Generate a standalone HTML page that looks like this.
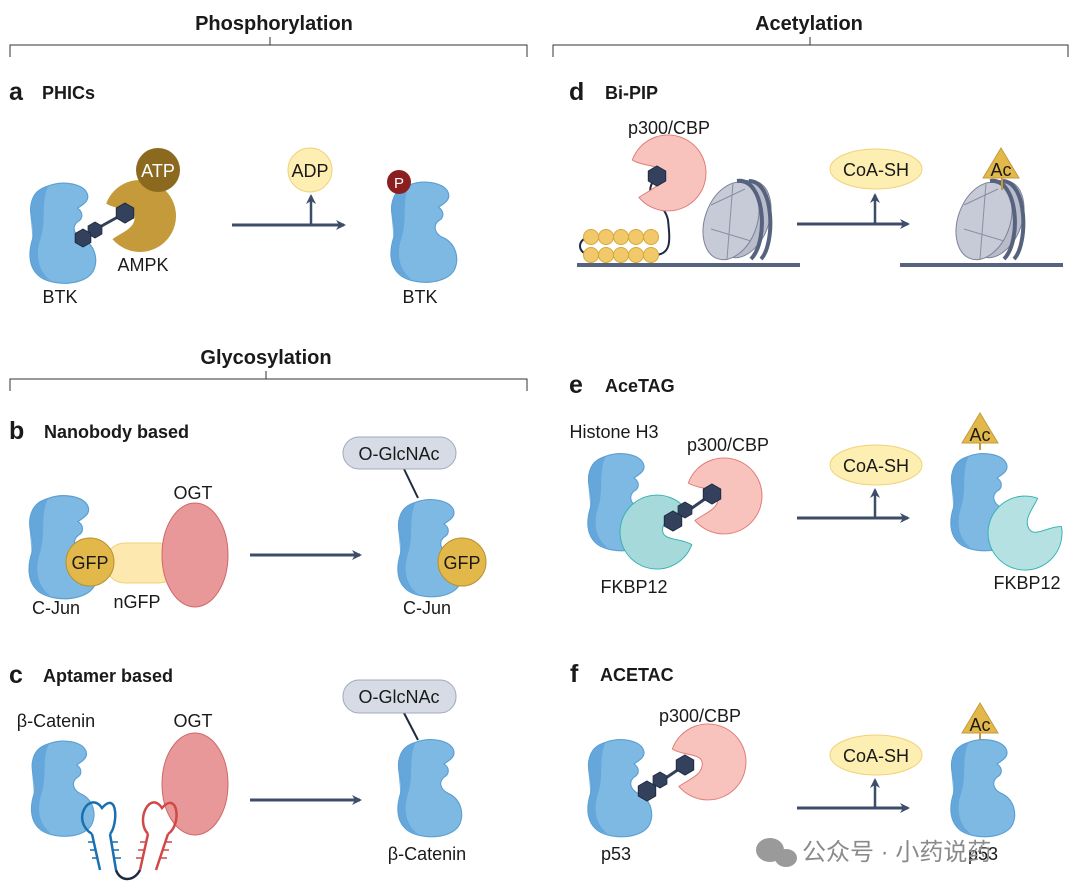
<!DOCTYPE html>
<html><head><meta charset="utf-8"><style>
html,body{margin:0;padding:0;background:#fff}
svg{display:block}
text{font-family:"Liberation Sans","Noto Sans CJK SC",sans-serif;fill:#1a1a1a}
.h{font-weight:bold;font-size:20px}
.L{font-weight:bold;font-size:25px}
.s{font-weight:bold;font-size:18px}
.t{font-size:18px}
</style></head><body>
<svg width="1074" height="893" viewBox="0 0 1074 893" xmlns="http://www.w3.org/2000/svg">
<defs>
<symbol id="blob" viewBox="0 0 70 105" overflow="visible">
<path d="M22,4 C38,-2 58,2 62,12 C65,20 56,24 52,27 C58,31 58,38 52,41 C46,46 48,54 56,58 C70,64 74,80 68,92 C60,106 30,108 14,98 C0,88 2,70 6,58 C10,46 2,38 4,24 C6,12 12,7 22,4 Z" fill="#7db9e3" stroke="#5a9fd3" stroke-width="1.2"/>
<path d="M22,4 C14,20 20,40 14,58 C8,76 12,92 24,101 C10,98 0,86 4,70 C8,54 2,40 4,24 C6,12 14,7 22,4Z" fill="#5fa3d8" opacity=".8"/>
</symbol>
<symbol id="pac" viewBox="-40 -40 80 80" overflow="visible">
<path d="M-37.6,-13.7 A40,40 0 1,1 -30.6,25.7 C-20,18 -6,14 -6,2 C-6,-10 -26,-6 -37.6,-13.7 Z"/>
</symbol>
<symbol id="hex" viewBox="-10 -10 20 20" overflow="visible">
<polygon points="0,-10 8.7,-5 8.7,5 0,10 -8.7,5 -8.7,-5" fill="#33415c" stroke="#1e2a40" stroke-width="1"/>
</symbol>
<marker id="ar" viewBox="0 0 10 10" refX="8" refY="5" markerWidth="10" markerHeight="10" markerUnits="userSpaceOnUse" orient="auto"><path d="M0,0 L10,5 L0,10 L3,5Z" fill="#3d4c68"/></marker>
<symbol id="nuc" viewBox="-45 -45 90 90" overflow="visible">
<ellipse cx="8" cy="0" rx="26" ry="40" transform="rotate(20 8 0)" fill="#b9bccb" stroke="#7d8298"/>
<ellipse cx="-4" cy="2" rx="26" ry="40" transform="rotate(20 -4 2)" fill="#c7cad7" stroke="#7d8298"/>
<line x1="-24" y1="-14" x2="10" y2="-30" stroke="#8a8fa3"/><line x1="-24" y1="10" x2="16" y2="22" stroke="#8a8fa3"/><line x1="-2" y1="-36" x2="-8" y2="40" stroke="#8a8fa3"/>
<path d="M2,-38 C30,-42 34,22 16,40" fill="none" stroke="#56627e" stroke-width="4"/>
<path d="M14,-38 C40,-38 40,26 26,40" fill="none" stroke="#56627e" stroke-width="4"/>
</symbol>
</defs>

<text class="h" x="274" y="30" text-anchor="middle">Phosphorylation</text>
<path d="M10,57 V45 H527 V57 M270,45 V37" fill="none" stroke="#333" stroke-width="1"/>
<text class="h" x="809" y="30" text-anchor="middle">Acetylation</text>
<path d="M553,57 V45 H1068 V57 M810,45 V37" fill="none" stroke="#333" stroke-width="1"/>
<text class="h" x="266" y="364" text-anchor="middle">Glycosylation</text>
<path d="M10,391 V379 H527 V391 M266,379 V371" fill="none" stroke="#333" stroke-width="1"/>

<text class="L" x="9" y="100">a</text><text class="s" x="42" y="99">PHICs</text>
<text class="L" x="569" y="100">d</text><text class="s" x="605" y="99">Bi-PIP</text>
<text class="L" x="9" y="439">b</text><text class="s" x="44" y="438">Nanobody based</text>
<text class="L" x="9" y="683">c</text><text class="s" x="43" y="682">Aptamer based</text>
<text class="L" x="569" y="393">e</text><text class="s" x="605" y="392">AceTAG</text>
<text class="L" x="570" y="682">f</text><text class="s" x="600" y="681">ACETAC</text>

<!-- panel a -->
<use href="#blob" x="26" y="182" width="70" height="102"/>
<use href="#pac" x="104" y="180" width="72" height="72" fill="#c49a3a"/>
<circle cx="158" cy="170" r="22" fill="#8b6a20"/>
<text class="t" x="158" y="177" text-anchor="middle" style="fill:#fff">ATP</text>
<line x1="80" y1="238" x2="125" y2="213" stroke="#33415c" stroke-width="3"/>
<use href="#hex" x="115" y="203" width="20" height="20"/>
<use href="#hex" x="87" y="222" width="16" height="16"/>
<use href="#hex" x="74" y="229" width="18" height="18"/>
<text class="t" x="143" y="271" text-anchor="middle">AMPK</text>
<text class="t" x="60" y="303" text-anchor="middle">BTK</text>
<line x1="232" y1="225" x2="344" y2="225" stroke="#3d4c68" stroke-width="3" marker-end="url(#ar)"/>
<line x1="311" y1="225" x2="311" y2="196" stroke="#3d4c68" stroke-width="2.5" marker-end="url(#ar)"/>
<circle cx="310" cy="170" r="22" fill="#fdeeb2" stroke="#f0d27a"/>
<text class="t" x="310" y="177" text-anchor="middle">ADP</text>
<use href="#blob" x="388" y="181" width="68" height="102"/>
<circle cx="399" cy="182" r="12" fill="#8b1f1f"/>
<text x="399" y="188" text-anchor="middle" style="fill:#fff;font-size:15px">P</text>
<text class="t" x="420" y="303" text-anchor="middle">BTK</text>

<!-- panel d -->
<line x1="577" y1="265" x2="800" y2="265" stroke="#56627e" stroke-width="4"/>
<path d="M592,237 C576,237 576,255 592,255" fill="none" stroke="#1e2a40" stroke-width="2"/>
<path d="M654,255 C672,255 670,240 668,220 C664,200 640,200 655,178" fill="none" stroke="#1e2a40" stroke-width="2"/>
<g fill="#f1c96a" stroke="#d8a838">
<circle cx="591" cy="237" r="7.5"/><circle cx="606" cy="237" r="7.5"/><circle cx="621" cy="237" r="7.5"/><circle cx="636" cy="237" r="7.5"/><circle cx="651" cy="237" r="7.5"/>
<circle cx="591" cy="255" r="7.5"/><circle cx="606" cy="255" r="7.5"/><circle cx="621" cy="255" r="7.5"/><circle cx="636" cy="255" r="7.5"/><circle cx="651" cy="255" r="7.5"/>
</g>
<use href="#pac" x="630" y="135" width="76" height="76" fill="#f8c2bd" stroke="#e07a74"/>
<use href="#hex" x="647" y="166" width="20" height="20"/>
<text class="t" x="669" y="134" text-anchor="middle">p300/CBP</text>
<use href="#nuc" x="690" y="174" width="90" height="90"/>
<line x1="797" y1="224" x2="908" y2="224" stroke="#3d4c68" stroke-width="3" marker-end="url(#ar)"/>
<line x1="875" y1="224" x2="875" y2="195" stroke="#3d4c68" stroke-width="2.5" marker-end="url(#ar)"/>
<ellipse cx="876" cy="169" rx="46" ry="20" fill="#fdeeb2" stroke="#f0d27a"/>
<text class="t" x="876" y="176" text-anchor="middle">CoA-SH</text>
<line x1="900" y1="265" x2="1063" y2="265" stroke="#56627e" stroke-width="4"/>
<use href="#nuc" x="943" y="174" width="90" height="90"/>
<line x1="1002" y1="178" x2="1002" y2="190" stroke="#c49a3a" stroke-width="2"/>
<polygon points="1001,148 1019,178 983,178" fill="#e3b84a" stroke="#c49a3a"/>
<text class="t" x="1001" y="176" text-anchor="middle">Ac</text>

<!-- panel b -->
<use href="#blob" x="26" y="494" width="70" height="106"/>
<rect x="105" y="543" width="74" height="40" rx="20" fill="#fde9b0" stroke="#f0d27a"/>
<ellipse cx="195" cy="555" rx="33" ry="52" fill="#e89898" stroke="#d06868"/>
<circle cx="90" cy="562" r="24" fill="#e3b84a" stroke="#b8902e"/>
<text class="t" x="90" y="569" text-anchor="middle">GFP</text>
<text class="t" x="193" y="499" text-anchor="middle">OGT</text>
<text class="t" x="56" y="614" text-anchor="middle">C-Jun</text>
<text class="t" x="137" y="608" text-anchor="middle">nGFP</text>
<line x1="250" y1="555" x2="360" y2="555" stroke="#3d4c68" stroke-width="3" marker-end="url(#ar)"/>
<line x1="404" y1="469" x2="418" y2="498" stroke="#1e2a40" stroke-width="2"/>
<rect x="343" y="437" width="113" height="32" rx="16" fill="#d6dbe6" stroke="#a0a8ba"/>
<text class="t" x="399" y="460" text-anchor="middle">O-GlcNAc</text>
<use href="#blob" x="395" y="495" width="66" height="106"/>
<circle cx="462" cy="562" r="24" fill="#e3b84a" stroke="#b8902e"/>
<text class="t" x="462" y="569" text-anchor="middle">GFP</text>
<text class="t" x="427" y="614" text-anchor="middle">C-Jun</text>

<!-- panel c -->
<text class="t" x="56" y="727" text-anchor="middle">β-Catenin</text>
<text class="t" x="193" y="727" text-anchor="middle">OGT</text>
<use href="#blob" x="26" y="740" width="70" height="97"/>
<ellipse cx="195" cy="784" rx="33" ry="51" fill="#e89898" stroke="#d06868"/>
<g fill="none" stroke-width="2.5">
<path d="M100,870 L92,834 M116,870 L110,834 M92,834 C70,820 90,790 102,808 C118,790 118,825 110,834" stroke="#1a6fb0"/>
<path d="M116,870 C120,882 134,882 140,870" stroke="#1e2a40"/>
<path d="M140,870 L148,834 M156,870 L168,834 M148,834 C135,820 150,790 162,808 C178,790 182,825 168,834" stroke="#d04848"/>
</g>
<g stroke="#1a6fb0" stroke-width="1.5"><path d="M94,842h-6M96,850h-6M98,858h-6M112,842h6M113,850h6M115,858h6"/></g>
<g stroke="#d04848" stroke-width="1.5"><path d="M146,842h-6M144,850h-6M142,858h-6M166,842h6M163,850h6M161,858h6"/></g>
<line x1="250" y1="800" x2="360" y2="800" stroke="#3d4c68" stroke-width="3" marker-end="url(#ar)"/>
<line x1="404" y1="713" x2="418" y2="740" stroke="#1e2a40" stroke-width="2"/>
<rect x="343" y="680" width="113" height="33" rx="16" fill="#d6dbe6" stroke="#a0a8ba"/>
<text class="t" x="399" y="703" text-anchor="middle">O-GlcNAc</text>
<use href="#blob" x="395" y="738" width="66" height="100"/>
<text class="t" x="427" y="860" text-anchor="middle">β-Catenin</text>

<!-- panel e -->
<text class="t" x="614" y="438" text-anchor="middle">Histone H3</text>
<text class="t" x="728" y="451" text-anchor="middle">p300/CBP</text>
<use href="#blob" x="585" y="448" width="66" height="108"/>
<use href="#pac" x="620" y="495" width="74" height="74" fill="#a6d9da" stroke="#2fb0b0" transform="rotate(180 657 532)"/>
<use href="#pac" x="686" y="458" width="76" height="76" fill="#f8c2bd" stroke="#e07a74"/>
<line x1="672" y1="522" x2="712" y2="494" stroke="#33415c" stroke-width="3"/>
<use href="#hex" x="702" y="484" width="20" height="20"/>
<use href="#hex" x="677" y="502" width="16" height="16"/>
<use href="#hex" x="663" y="511" width="20" height="20"/>
<text class="t" x="634" y="593" text-anchor="middle">FKBP12</text>
<line x1="797" y1="518" x2="908" y2="518" stroke="#3d4c68" stroke-width="3" marker-end="url(#ar)"/>
<line x1="875" y1="518" x2="875" y2="490" stroke="#3d4c68" stroke-width="2.5" marker-end="url(#ar)"/>
<ellipse cx="876" cy="465" rx="46" ry="20" fill="#fdeeb2" stroke="#f0d27a"/>
<text class="t" x="876" y="472" text-anchor="middle">CoA-SH</text>
<line x1="980" y1="442" x2="980" y2="450" stroke="#c49a3a" stroke-width="2"/>
<polygon points="980,413 998,443 962,443" fill="#e3b84a" stroke="#c49a3a"/>
<text class="t" x="980" y="441" text-anchor="middle">Ac</text>
<use href="#blob" x="948" y="448" width="66" height="108"/>
<use href="#pac" x="988" y="496" width="74" height="74" fill="#b5e1e2" stroke="#2fb0b0" transform="rotate(150 1025 533)"/>
<text class="t" x="1027" y="589" text-anchor="middle">FKBP12</text>

<!-- panel f -->
<text class="t" x="700" y="722" text-anchor="middle">p300/CBP</text>
<use href="#blob" x="585" y="738" width="66" height="100"/>
<use href="#pac" x="670" y="724" width="76" height="76" fill="#f8c2bd" stroke="#e07a74"/>
<line x1="645" y1="792" x2="685" y2="765" stroke="#33415c" stroke-width="3"/>
<use href="#hex" x="675" y="755" width="20" height="20"/>
<use href="#hex" x="652" y="772" width="16" height="16"/>
<use href="#hex" x="637" y="781" width="20" height="20"/>
<text class="t" x="616" y="860" text-anchor="middle">p53</text>
<line x1="797" y1="808" x2="908" y2="808" stroke="#3d4c68" stroke-width="3" marker-end="url(#ar)"/>
<line x1="875" y1="808" x2="875" y2="780" stroke="#3d4c68" stroke-width="2.5" marker-end="url(#ar)"/>
<ellipse cx="876" cy="755" rx="46" ry="20" fill="#fdeeb2" stroke="#f0d27a"/>
<text class="t" x="876" y="762" text-anchor="middle">CoA-SH</text>
<line x1="980" y1="732" x2="980" y2="740" stroke="#c49a3a" stroke-width="2"/>
<polygon points="980,703 998,733 962,733" fill="#e3b84a" stroke="#c49a3a"/>
<text class="t" x="980" y="731" text-anchor="middle">Ac</text>
<use href="#blob" x="948" y="738" width="66" height="100"/>
<text class="t" x="983" y="860" text-anchor="middle">p53</text>

<g fill="#9a9a9a"><ellipse cx="770" cy="850" rx="14" ry="12"/><ellipse cx="786" cy="858" rx="11" ry="9"/></g>
<text x="802" y="860" style="fill:#8a8a8a;font-size:24px">公众号 · 小药说药</text>
</svg>
</body></html>
